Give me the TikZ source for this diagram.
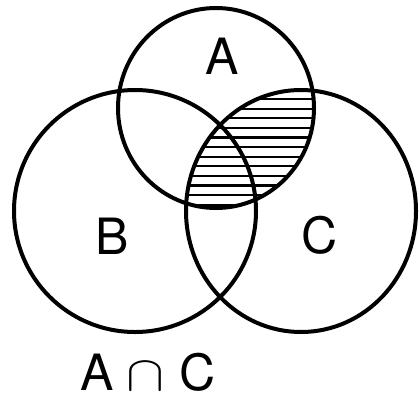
\documentclass[tikz,border=0pt]{standalone}
\usepackage{graphicx}
\usepackage{fontspec}
\setmainfont{TeX Gyre Heros}
\usetikzlibrary{positioning}

\newcommand{\bigcapsym}{{\fontsize{10}{10}\selectfont\scalebox{5.7}[5.0]{$\cap$}}}

\begin{document}
\begin{tikzpicture}[x=1pt, y=-1pt,
    setline/.style={line width=4pt},
    hatch/.style={line width=2.2pt},
    setname/.style={font=\fontsize{50}{50}\selectfont, inner sep=0pt}]
  \useasboundingbox (0,0) rectangle (419,396);

  % A and C: horizontal hatching
  \begin{scope}
    \clip (216,108) ellipse [x radius=98pt, y radius=100pt];
    \clip (301,211) ellipse [x radius=116pt, y radius=121pt];
    \foreach \y in {99,108.6,...,210}
      \draw[hatch] (170,\y) -- (330,\y);
  \end{scope}

  % The three sets
  \draw[setline] (216,108) ellipse [x radius=98pt, y radius=100pt];
  \draw[setline] (135,211) ellipse [x radius=121pt, y radius=121pt];
  \draw[setline] (301,211) ellipse [x radius=115pt, y radius=121pt];

  \node[setname] (labA) at (222,56) {A};
  \node[setname] (labB) at (112,236) {B};
  \node[setname] (labC) at (320,235) {C};

  % caption
  \node[setname, anchor=base] (caption) at (148,390)
    {A\hspace{13pt}\bigcapsym\hspace{15pt}C};
\end{tikzpicture}
\end{document}
